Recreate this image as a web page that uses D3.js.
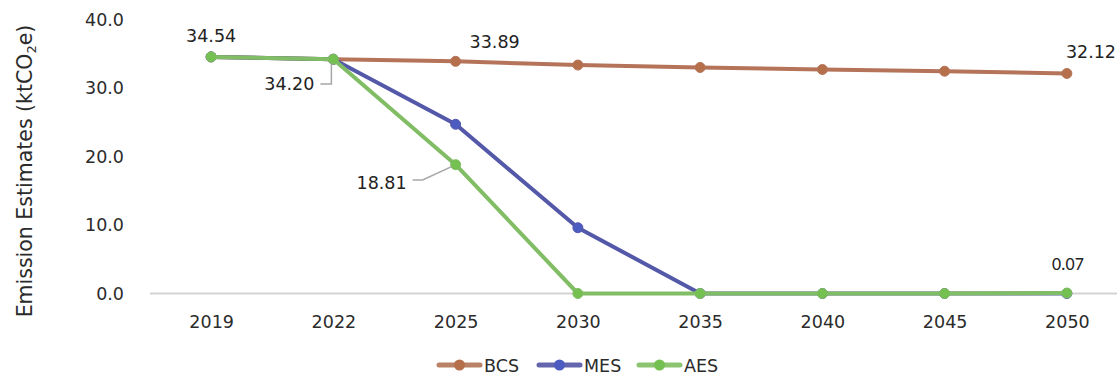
<!DOCTYPE html>
<html>
<head>
<meta charset="utf-8">
<script src="https://cdn.jsdelivr.net/npm/d3@7"></script>
<style>
  html, body { margin: 0; padding: 0; background: #fff; }
  svg { display: block; font-family: "DejaVu Sans", sans-serif; }
</style>
</head>
<body>
<svg id="chart" width="1117" height="379"></svg>
<script>
// Emission estimates by scenario (ktCO2e)
const years = ["2019", "2022", "2025", "2030", "2035", "2040", "2045", "2050"];
const bcs = [34.54, 34.20, 33.89, 33.35, 33.0, 32.7, 32.45, 32.12];
const mes = [34.54, 34.20, 24.7, 9.6, 0, 0, 0, 0];
const aes = [34.54, 34.20, 18.81, 0, 0, 0, 0, 0.07];
const yTicks = [0, 10, 20, 30, 40];
const seriesNames = ["BCS", "MES", "AES"];
const seriesColors = { BCS: "#b5745a", MES: "#5458a8", AES: "#80bd64" };
const markerColors = { BCS: "#b56f4a", MES: "#4c5cc0", AES: "#74c050" };
const legendColors = { BCS: "#b98266", MES: "#6466ad", AES: "#8cc472" };

const series = [
  { name: "BCS", values: bcs },
  { name: "MES", values: mes },
  { name: "AES", values: aes }
];

const FONT = "'DejaVu Sans', sans-serif";
const FS = 17.5;
const svg = d3.select("#chart");
const margin = { left: 150, right: -11 };
const W = 1117;

const x = d3.scalePoint().domain(years).range([margin.left, W - margin.right]).padding(0.5);
const y = d3.scaleLinear().domain([0, 40]).range([293.5, 19.5]);

// baseline
svg.append("line")
  .attr("x1", margin.left).attr("x2", W)
  .attr("y1", y(0)).attr("y2", y(0))
  .attr("stroke", "#d3d3d3").attr("stroke-width", 2);

// y axis tick labels
const yAxis = d3.axisLeft(y).tickValues(yTicks).tickFormat(d3.format(".1f")).tickSize(0).tickPadding(0);
svg.append("g").attr("transform", "translate(124,0)").call(yAxis)
  .call(g => g.select(".domain").remove())
  .call(g => g.selectAll("text").attr("font-size", FS).attr("fill", "#2b2b2b").attr("font-family", FONT));

// x axis tick labels
const xAxis = d3.axisBottom(x).tickSize(0).tickPadding(0);
svg.append("g").attr("transform", "translate(0,316)").call(xAxis)
  .call(g => g.select(".domain").remove())
  .call(g => g.selectAll("text").attr("font-size", FS).attr("fill", "#2b2b2b").attr("font-family", FONT));

// y axis title with subscript
const title = svg.append("text")
  .attr("transform", "translate(32,171) rotate(-90)")
  .attr("text-anchor", "middle")
  .attr("font-size", 20.5).attr("fill", "#2b2b2b");
title.append("tspan").text("Emission Estimates (ktCO");
title.append("tspan").attr("font-size", 13).attr("dy", 4).text("2");
title.append("tspan").attr("dy", -4).text("e)");

// lines, drawn so AES sits on top
const line = d3.line().x((d, i) => x(years[i])).y(d => y(d));
const gSeries = svg.append("g");
series.forEach(s => {
  gSeries.append("path")
    .datum(s.values)
    .attr("d", line)
    .attr("fill", "none")
    .attr("stroke", seriesColors[s.name])
    .attr("stroke-width", 4)
    .attr("stroke-linejoin", "round");
  gSeries.selectAll(null)
    .data(s.values)
    .join("circle")
    .attr("cx", (d, i) => x(years[i]))
    .attr("cy", d => y(d))
    .attr("r", 5)
    .attr("fill", markerColors[s.name])
    .attr("stroke", seriesColors[s.name])
    .attr("stroke-width", 1);
});

// data labels
const labelColor = "#222";
const lab = (txt, xx, yy, anchor, font) => svg.append("text")
  .attr("x", xx).attr("y", yy).attr("text-anchor", anchor || "middle")
  .attr("font-size", FS).attr("fill", labelColor)
  .attr("font-family", font || FONT)
  .text(txt);

lab(d3.format(".2f")(aes[0]), x("2019"), 42);
lab(d3.format(".2f")(bcs[1]), x("2022") - 19, 90, "end");
lab(d3.format(".2f")(bcs[2]), x("2025") + 39, 48);
lab(d3.format(".2f")(bcs[7]), W - 1, 58, "end");
lab(d3.format(".2f")(aes[2]), x("2025") - 49, 189, "end");
lab(d3.format(".2f")(aes[7]), x("2050") + 1, 270, "middle", "Carlito, 'Liberation Sans Narrow', sans-serif").attr("font-size", 18);

// leader lines
const leader = d3.line();
svg.append("path")
  .attr("d", leader([[x("2022") - 13, 84], [x("2022") - 2, 84], [x("2022") - 2, y(bcs[1]) + 4]]))
  .attr("fill", "none").attr("stroke", "#a6a6a6").attr("stroke-width", 1.5);
svg.append("path")
  .attr("d", leader([[x("2025") - 43, 180], [x("2025") - 33, 180], [x("2025") - 4, y(aes[2]) + 2]]))
  .attr("fill", "none").attr("stroke", "#a6a6a6").attr("stroke-width", 1.5);

// legend
const legendX = [437, 537, 637];
const lg = svg.append("g");
seriesNames.forEach((n, i) => {
  const g = lg.append("g").attr("transform", `translate(${legendX[i]},365)`);
  g.append("line").attr("x1", 2).attr("x2", 43).attr("y1", 0).attr("y2", 0)
    .attr("stroke", legendColors[n]).attr("stroke-width", 5).attr("stroke-linecap", "round");
  g.append("circle").attr("cx", 22.5).attr("cy", 0).attr("r", 5.5).attr("fill", markerColors[n]);
  g.append("text").attr("x", 47).attr("y", 7).attr("font-size", FS).attr("fill", "#2b2b2b").text(n);
});
</script>
</body>
</html>
